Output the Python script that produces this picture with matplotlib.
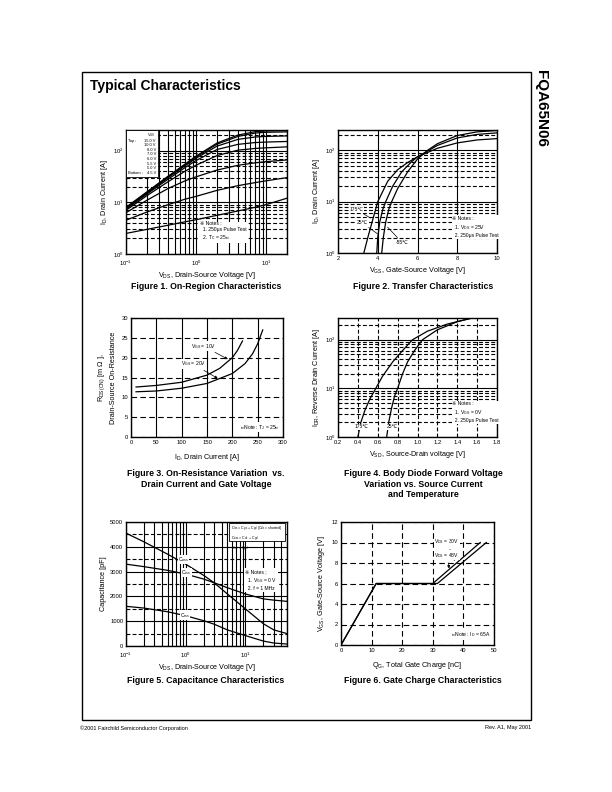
import matplotlib
matplotlib.use("Agg")
import matplotlib.pyplot as plt
from matplotlib.patches import Rectangle
from matplotlib.ticker import MultipleLocator, LogLocator, NullFormatter

plt.rcParams['font.family'] = ['Liberation Sans', 'DejaVu Sans', 'Noto Sans CJK JP']
plt.rcParams['mathtext.default'] = 'regular'

# ---- Figure 1: on-region characteristics ----
vds_1 = [0.1, 0.2, 0.4, 0.7, 1, 2, 4, 7, 10, 20]
vgs_labels = ['15.0 V', '10.0 V', '8.0 V', '7.0 V', '6.0 V', '5.5 V', '5.0 V', '4.5 V']
id_15v = [8.0, 16, 32, 55, 78, 140, 200, 232, 240, 245]
id_10v = [7.8, 15.5, 31, 53, 75, 133, 188, 218, 226, 230]
id_8v = [7.6, 15, 30, 51, 71, 122, 165, 183, 188, 192]
id_7v = [7.4, 14.5, 28, 47, 64, 105, 132, 143, 146, 150]
id_6v = [7.0, 13.5, 25, 40, 52, 80, 102, 110, 113, 118]
id_55v = [6.3, 11, 18.5, 26, 31, 42, 52, 58, 61, 66]
id_5v = [4.5, 6.5, 9, 11.5, 13, 17, 21, 24, 26, 30]
id_45v = [2.5, 3.0, 3.6, 4.2, 4.6, 5.6, 6.8, 8.0, 9.0, 12]

# ---- Figure 2: transfer characteristics ----
vgs_175 = [3.3, 3.5, 3.75, 4.0, 4.5, 5.0, 5.5, 6.0, 7.0, 8.0, 9.0, 10.0]
id_175 = [1, 2, 4.5, 10, 25, 42, 58, 75, 110, 140, 160, 170]
vgs_25 = [3.95, 4.0, 4.1, 4.25, 4.4, 4.75, 5.2, 5.7, 6.0, 7.0, 8.0, 9.0, 10.0]
id_25 = [1, 2, 4, 7, 10, 20, 38, 60, 75, 125, 175, 205, 220]
vgs_m55 = [4.2, 4.28, 4.4, 4.55, 4.7, 5.0, 5.5, 6.0, 6.5, 7.0, 8.0, 9.0, 10.0]
id_m55 = [1, 2, 4, 7, 10, 18, 38, 68, 100, 135, 195, 230, 245]

# ---- Figure 3: on-resistance vs drain current ----
id_r10 = [10, 50, 100, 150, 175, 200, 210, 220]
rds_10v = [12.6, 13.0, 13.8, 15.6, 17.3, 20.0, 21.8, 24.2]
id_r20 = [10, 50, 100, 150, 200, 225, 240, 250, 260]
rds_20v = [11.4, 11.6, 12.3, 13.5, 16.0, 18.5, 21.0, 23.5, 27.0]

# ---- Figure 4: body diode forward voltage ----
vsd_175 = [0.40, 0.43, 0.47, 0.52, 0.58, 0.65, 0.75, 0.85, 0.95, 1.10, 1.30, 1.55]
idr_175 = [1, 2, 3.5, 6, 10, 18, 35, 60, 100, 150, 210, 280]
vsd_25 = [0.69, 0.71, 0.74, 0.77, 0.80, 0.85, 0.90, 0.97, 1.05, 1.20, 1.40, 1.55]
idr_25 = [1, 2, 4, 7, 10, 20, 35, 60, 100, 160, 235, 280]

# ---- Figure 5: capacitance ----
vds_5 = [0.1, 0.2, 0.5, 1, 2, 3, 5, 10, 20, 30, 50]
c_iss = [3300, 3200, 3050, 2900, 2700, 2550, 2350, 2100, 1900, 1850, 1800]
c_oss = [4550, 4200, 3700, 3300, 2850, 2550, 2100, 1500, 900, 650, 500]
c_rss = [1600, 1530, 1380, 1220, 1020, 880, 650, 420, 200, 120, 80]

# ---- Figure 6: gate charge ----
qg_30v = [0, 11.5, 30, 45.5]
vg_30v = [0, 6, 6, 10]
qg_48v = [0, 11.5, 31.5, 47.5]
vg_48v = [0, 6, 6, 10]

W, H = 612, 792
fig = plt.figure(figsize=(6.12, 7.92), dpi=100)

def add_ax(x0, y0, x1, y1):
    return fig.add_axes([x0 / W, 1 - y1 / H, (x1 - x0) / W, (y1 - y0) / H])

dash = (0, (3.5, 2))
glw = 0.8
tfs = 4.2
lfs = 5.2
nfs = 3.6

def style(ax):
    ax.tick_params(which='both', direction='in', labelsize=tfs, length=1.5, width=0.6, pad=2)
    ax.tick_params(which='minor', length=0)
    for s in ax.spines.values():
        s.set_linewidth(1.0)
    ax.set_axisbelow(False)

def logy_grid(ax):
    ax.yaxis.set_minor_locator(LogLocator(base=10, subs=range(2, 10)))
    ax.yaxis.set_minor_formatter(NullFormatter())
    ax.yaxis.grid(True, which='major', color='k', lw=glw, ls='-')
    ax.yaxis.grid(True, which='minor', color='k', lw=glw, ls=dash)

note_kw = dict(fontsize=nfs, va='top', ha='left', linespacing=1.3)

# Figure 1
ax1 = add_ax(126, 130, 287, 254)
curves1 = [id_15v, id_10v, id_8v, id_7v, id_6v, id_55v, id_5v, id_45v]
for ys in curves1:
    ax1.plot(vds_1, ys, color='k', lw=0.9)
ax1.set_xscale('log')
ax1.set_yscale('log')
ax1.set_xlim(0.1, 20)
ax1.set_ylim(1, 250)
style(ax1)
ax1.tick_params(axis='x', pad=3.5)
ax1.xaxis.set_minor_locator(LogLocator(base=10, subs=range(2, 10)))
ax1.xaxis.set_minor_formatter(NullFormatter())
ax1.xaxis.grid(True, which='both', color='k', lw=glw, ls='-')
logy_grid(ax1)
ax1.add_patch(Rectangle((0, 0.62), 0.2, 0.38, transform=ax1.transAxes,
                        fc='white', ec='k', lw=0.6, zorder=3))
lg = 2.9
ax1.text(0.185, 0.99, r'V$_{GS}$', transform=ax1.transAxes, fontsize=lg,
         ha='right', va='top', zorder=4)
for i, lab in enumerate(vgs_labels):
    ax1.text(0.185, 0.93 - i * 0.037, lab, transform=ax1.transAxes, fontsize=lg,
             ha='right', va='top', zorder=4)
ax1.text(0.015, 0.93, 'Top :', transform=ax1.transAxes, fontsize=lg, va='top', zorder=4)
ax1.text(0.015, 0.93 - 7 * 0.037, 'Bottom :', transform=ax1.transAxes, fontsize=lg,
         va='top', zorder=4)
ax1.text(0.46, 0.27, '※ Notes :\n  1. 250μs Pulse Test\n  2. T$_C$ = 25℃',
         transform=ax1.transAxes, bbox=dict(fc='white', ec='none', pad=0.5), **note_kw)
ax1.set_xlabel(r'V$_{DS}$, Drain-Source Voltage [V]', fontsize=lfs, labelpad=1.5)
ax1.set_ylabel(r'I$_D$, Drain Current [A]', fontsize=lfs, labelpad=2)

# Figure 2
ax2 = add_ax(338, 130, 497, 253)
ax2.plot(vgs_175, id_175, color='k', lw=0.9)
ax2.plot(vgs_25, id_25, color='k', lw=0.9)
ax2.plot(vgs_m55, id_m55, color='k', lw=0.9)
ax2.set_yscale('log')
ax2.set_xlim(2, 10)
ax2.set_ylim(1, 250)
ax2.xaxis.set_major_locator(MultipleLocator(2))
style(ax2)
ax2.xaxis.grid(True, which='major', color='k', lw=glw, ls='-')
logy_grid(ax2)
arr = dict(arrowstyle='-', color='k', lw=0.5)
ax2.annotate('175℃', xy=(3.75, 4.5), xytext=(2.6, 6.5), fontsize=nfs, arrowprops=arr,
             bbox=dict(fc='white', ec='none', pad=0.3))
ax2.annotate('25℃', xy=(4.1, 2.2), xytext=(2.95, 3.6), fontsize=nfs, arrowprops=arr,
             bbox=dict(fc='white', ec='none', pad=0.3))
ax2.annotate('-55℃', xy=(4.4, 3.5), xytext=(4.9, 1.5), fontsize=nfs, arrowprops=arr,
             bbox=dict(fc='white', ec='none', pad=0.3))
ax2.text(0.72, 0.3, '※ Notes :\n  1. V$_{DS}$ = 25V\n  2. 250μs Pulse Test',
         transform=ax2.transAxes, bbox=dict(fc='white', ec='none', pad=0.5), **note_kw)
ax2.set_xlabel(r'V$_{GS}$, Gate-Source Voltage [V]', fontsize=lfs, labelpad=3)
ax2.set_ylabel(r'I$_D$, Drain Current [A]', fontsize=lfs, labelpad=2)

# Figure 3
ax3 = add_ax(131, 318, 283, 437)
ax3.plot(id_r10, rds_10v, color='k', lw=0.9)
ax3.plot(id_r20, rds_20v, color='k', lw=0.9)
ax3.set_xlim(0, 300)
ax3.set_ylim(0, 30)
ax3.xaxis.set_major_locator(MultipleLocator(50))
ax3.yaxis.set_major_locator(MultipleLocator(5))
style(ax3)
ax3.xaxis.grid(True, color='k', lw=glw, ls='-')
ax3.yaxis.grid(True, color='k', lw=glw, ls=(0, (5, 3)))
arr3 = dict(arrowstyle='-|>', color='k', lw=0.5, mutation_scale=4)
ax3.annotate(r'V$_{GS}$ = 10V', xy=(196, 19.3), xytext=(118, 22.5), fontsize=nfs,
             arrowprops=arr3, bbox=dict(fc='white', ec='none', pad=0.3))
ax3.annotate(r'V$_{GS}$ = 20V', xy=(176, 14.4), xytext=(98, 18.0), fontsize=nfs,
             arrowprops=arr3, bbox=dict(fc='white', ec='none', pad=0.3))
ax3.text(0.72, 0.12, '※ Note : T$_J$ = 25℃', transform=ax3.transAxes,
         bbox=dict(fc='white', ec='none', pad=0.5), **note_kw)
ax3.set_xlabel(r'I$_D$, Drain Current [A]', fontsize=lfs, labelpad=5)
ax3.set_ylabel('R$_{DS(ON)}$ [m Ω ],\nDrain-Source On-Resistance', fontsize=lfs,
               labelpad=3, linespacing=1.6)

# Figure 4
ax4 = add_ax(338, 318, 497, 437)
ax4.plot(vsd_175, idr_175, color='k', lw=0.9)
ax4.plot(vsd_25, idr_25, color='k', lw=0.9)
ax4.set_yscale('log')
ax4.set_xlim(0.2, 1.8)
ax4.set_ylim(1, 280)
ax4.xaxis.set_major_locator(MultipleLocator(0.2))
style(ax4)
ax4.xaxis.grid(True, color='k', lw=glw, ls=dash)
logy_grid(ax4)
ax4.text(0.44, 1.45, '175℃', fontsize=nfs, ha='center', va='bottom',
         bbox=dict(fc='white', ec='none', pad=0.3))
ax4.text(0.745, 1.45, '25℃', fontsize=nfs, ha='center', va='bottom',
         bbox=dict(fc='white', ec='none', pad=0.3))
ax4.text(0.72, 0.3, '※ Notes :\n  1. V$_{GS}$ = 0V\n  2. 250μs Pulse Test',
         transform=ax4.transAxes, bbox=dict(fc='white', ec='none', pad=0.5), **note_kw)
ax4.set_xlabel(r'V$_{SD}$, Source-Drain voltage [V]', fontsize=lfs, labelpad=3)
ax4.set_ylabel(r'I$_{DR}$, Reverse Drain Current [A]', fontsize=lfs, labelpad=2)

# Figure 5
ax5 = add_ax(126, 522, 287, 646)
ax5.plot(vds_5, c_iss, color='k', lw=0.9)
ax5.plot(vds_5, c_oss, color='k', lw=0.9)
ax5.plot(vds_5, c_rss, color='k', lw=0.9)
ax5.set_xscale('log')
ax5.set_xlim(0.1, 50)
ax5.set_ylim(0, 5000)
ax5.yaxis.set_major_locator(MultipleLocator(1000))
ax5.yaxis.set_minor_locator(MultipleLocator(500))
style(ax5)
ax5.tick_params(axis='x', pad=3.5)
ax5.xaxis.set_minor_locator(LogLocator(base=10, subs=range(2, 10)))
ax5.xaxis.set_minor_formatter(NullFormatter())
ax5.xaxis.grid(True, which='both', color='k', lw=glw, ls='-')
ax5.yaxis.grid(True, which='major', color='k', lw=glw, ls='-')
ax5.yaxis.grid(True, which='minor', color='k', lw=glw, ls=dash)
ax5.text(0.75, 3420, r'C$_{oss}$', fontsize=nfs, bbox=dict(fc='white', ec='none', pad=0.2))
ax5.text(0.85, 2900, r'C$_{iss}$', fontsize=nfs, bbox=dict(fc='white', ec='none', pad=0.2))
ax5.text(0.8, 1180, r'C$_{rss}$', fontsize=nfs, bbox=dict(fc='white', ec='none', pad=0.2))
ax5.add_patch(Rectangle((0.64, 0.85), 0.345, 0.14, transform=ax5.transAxes,
                        fc='white', ec='k', lw=0.6, zorder=3))
ax5.text(0.65, 0.98, 'C$_{iss}$ = C$_{gs}$ + C$_{gd}$ (C$_{ds}$ = shorted)\n'
         'C$_{oss}$ = C$_{ds}$ + C$_{gd}$\nC$_{rss}$ = C$_{gd}$',
         transform=ax5.transAxes, fontsize=2.6, va='top', ha='left', zorder=4,
         linespacing=1.2)
ax5.text(0.74, 0.62, '※ Notes ;\n  1. V$_{GS}$ = 0 V\n  2. f = 1 MHz',
         transform=ax5.transAxes, bbox=dict(fc='white', ec='none', pad=0.5), **note_kw)
ax5.set_xlabel(r'V$_{DS}$, Drain-Source Voltage [V]', fontsize=lfs, labelpad=1.5)
ax5.set_ylabel('Capacitance [pF]', fontsize=lfs, labelpad=2)

# Figure 6
ax6 = add_ax(341, 522, 494, 645)
ax6.plot(qg_30v, vg_30v, color='k', lw=0.9)
ax6.plot(qg_48v, vg_48v, color='k', lw=0.9)
ax6.set_xlim(0, 50)
ax6.set_ylim(0, 12)
ax6.xaxis.set_major_locator(MultipleLocator(10))
ax6.yaxis.set_major_locator(MultipleLocator(2))
style(ax6)
ax6.grid(True, color='k', lw=glw, ls=(0, (5, 3)))
ax6.annotate(r'V$_{DS}$ = 30V', xy=(37.5, 7.95), xytext=(30.5, 9.9), fontsize=nfs,
             arrowprops=arr3, bbox=dict(fc='white', ec='none', pad=0.3))
ax6.annotate(r'V$_{DS}$ = 48V', xy=(35.5, 7.2), xytext=(30.5, 8.6), fontsize=nfs,
             arrowprops=arr3, bbox=dict(fc='white', ec='none', pad=0.3))
ax6.text(0.72, 0.12, '※ Note : I$_D$ = 65A', transform=ax6.transAxes,
         bbox=dict(fc='white', ec='none', pad=0.5), **note_kw)
ax6.set_xlabel(r'Q$_G$, Total Gate Charge [nC]', fontsize=lfs, labelpad=5)
ax6.set_ylabel(r'V$_{GS}$, Gate-Source Voltage [V]', fontsize=lfs, labelpad=3)

# page furniture
fig.add_artist(Rectangle((82 / W, 1 - 720 / H), (531 - 82) / W, (720 - 72) / H,
                         transform=fig.transFigure, fill=False, ec='k', lw=1.0))
fig.text(90 / W, 1 - 86 / H, 'Typical Characteristics', fontsize=10, fontweight='bold',
         va='center', ha='left')
fig.text(541 / W, 1 - 70 / H, 'FQA65N06', fontsize=11, fontweight='bold', rotation=-90,
         va='top', ha='center')
fig.text(80 / W, 1 - 728 / H, '©2001 Fairchild Semiconductor Corporation', fontsize=4,
         va='center', ha='left')
fig.text(531 / W, 1 - 728 / H, 'Rev. A1, May 2001', fontsize=4, va='center', ha='right')

tkw = dict(fontsize=6.3, fontweight='bold', ha='center', va='top', linespacing=1.25)
fig.text(206 / W, 1 - 282 / H, 'Figure 1. On-Region Characteristics', **tkw)
fig.text(423 / W, 1 - 282 / H, 'Figure 2. Transfer Characteristics', **tkw)
fig.text(206 / W, 1 - 469 / H, 'Figure 3. On-Resistance Variation  vs.\n'
         'Drain Current and Gate Voltage', **tkw)
fig.text(423 / W, 1 - 469 / H, 'Figure 4. Body Diode Forward Voltage\n'
         'Variation vs. Source Current\nand Temperature', **tkw)
fig.text(206 / W, 1 - 676 / H, 'Figure 5. Capacitance Characteristics', **tkw)
fig.text(423 / W, 1 - 676 / H, 'Figure 6. Gate Charge Characteristics', **tkw)

fig.savefig('out.png', dpi=100)
